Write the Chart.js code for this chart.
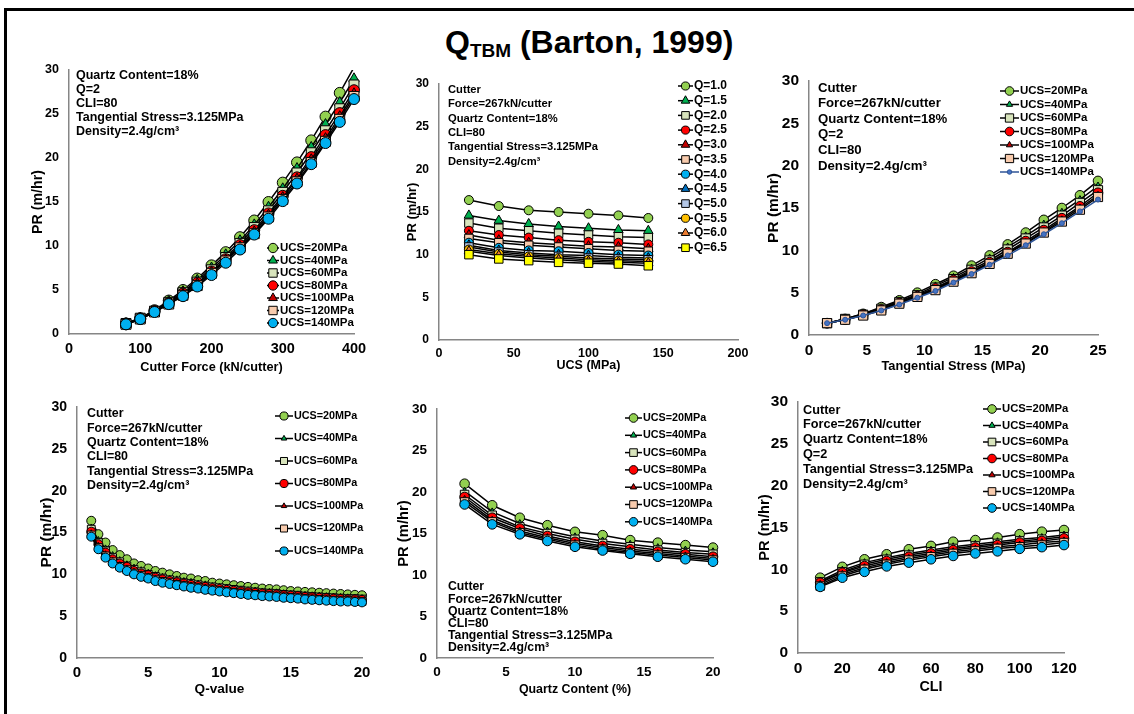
<!DOCTYPE html>
<html>
<head>
<meta charset="utf-8">
<script src="https://cdn.jsdelivr.net/npm/chart.js@4.4.1/dist/chart.umd.min.js"></script>
<style>
  body { margin: 0; background: #fff; width: 1134px; height: 714px; overflow: hidden; position: relative;
         font-family: "Liberation Sans", Arial, sans-serif; }
  canvas { position: absolute; left: 0; top: 0; }
  #frame { position: absolute; left: 4px; top: 8px; width: 1140px; height: 720px;
           border-top: 3px solid #000; border-left: 3px solid #000; }
  #title { position: absolute; left: 445px; top: 26px; font-weight: bold; font-size: 32px;
           line-height: 32px; white-space: nowrap; color: #000; }
  #title sub { font-size: 19px; vertical-align: -4px; line-height: 0; }
</style>
</head>
<body>
<div id="frame"></div>
<div id="title">Q<sub>TBM</sub> (Barton, 1999)</div>
<script>
const FONT = '"Liberation Sans", Arial, sans-serif';

// ---- series names ----
const ucsNames = ['UCS=20MPa', 'UCS=40MPa', 'UCS=60MPa', 'UCS=80MPa', 'UCS=100MPa', 'UCS=120MPa', 'UCS=140MPa'];
const qNames = ['Q=1.0', 'Q=1.5', 'Q=2.0', 'Q=2.5', 'Q=3.0', 'Q=3.5', 'Q=4.0', 'Q=4.5', 'Q=5.0', 'Q=5.5', 'Q=6.0', 'Q=6.5'];

// ---- PR vs cutter force ----
const forceX = [80, 100, 120, 140, 160, 180, 200, 220, 240, 260, 280, 300, 320, 340, 360, 380, 400];
const forcePR = [
  [1.2, 1.8, 2.7, 3.8, 5.0, 6.3, 7.8, 9.3, 11.0, 12.9, 15.0, 17.2, 19.5, 22.0, 24.7, 27.4, 30.3],
  [1.2, 1.8, 2.6, 3.7, 4.8, 6.1, 7.5, 9.0, 10.6, 12.4, 14.4, 16.5, 18.8, 21.2, 23.8, 26.3, 29.0],
  [1.2, 1.8, 2.6, 3.6, 4.7, 5.9, 7.3, 8.7, 10.3, 12.1, 14.0, 16.1, 18.3, 20.6, 23.1, 25.6, 28.3],
  [1.1, 1.7, 2.6, 3.5, 4.6, 5.8, 7.1, 8.5, 10.1, 11.8, 13.7, 15.7, 17.8, 20.1, 22.6, 25.1, 27.7],
  [1.1, 1.7, 2.5, 3.5, 4.5, 5.7, 7.0, 8.4, 9.9, 11.6, 13.5, 15.5, 17.6, 19.8, 22.2, 24.7, 27.3],
  [1.1, 1.7, 2.5, 3.4, 4.4, 5.5, 6.9, 8.3, 9.8, 11.4, 13.3, 15.3, 17.3, 19.5, 21.9, 24.4, 27.0],
  [1.1, 1.7, 2.5, 3.4, 4.3, 5.4, 6.7, 8.1, 9.6, 11.3, 13.1, 15.1, 17.1, 19.3, 21.7, 24.1, 26.7]
];

// ---- PR vs UCS (one line per Q) ----
const ucsX = [20, 40, 60, 80, 100, 120, 140];
const ucsPR = [
  [16.4, 15.7, 15.2, 15.0, 14.8, 14.6, 14.3],
  [14.6, 14.0, 13.6, 13.3, 13.1, 12.9, 12.8],
  [13.7, 13.1, 12.8, 12.5, 12.3, 12.1, 12.0],
  [12.8, 12.3, 12.0, 11.7, 11.5, 11.4, 11.2],
  [12.3, 11.7, 11.4, 11.2, 11.0, 10.9, 10.7],
  [11.9, 11.4, 11.1, 10.9, 10.7, 10.5, 10.4],
  [11.4, 10.8, 10.5, 10.4, 10.2, 10.0, 9.9],
  [11.1, 10.5, 10.2, 10.0, 9.9, 9.7, 9.6],
  [10.9, 10.3, 10.0, 9.8, 9.6, 9.5, 9.4],
  [10.6, 10.1, 9.8, 9.6, 9.4, 9.3, 9.2],
  [10.4, 9.9, 9.6, 9.4, 9.2, 9.1, 9.0],
  [10.0, 9.5, 9.3, 9.1, 9.0, 8.9, 8.7]
];

// ---- PR vs tangential stress ----
const stressX = [1.5625, 3.125, 4.6875, 6.25, 7.8125, 9.375, 10.9375, 12.5, 14.0625, 15.625, 17.1875, 18.75, 20.3125, 21.875, 23.4375, 25];
const stressPR = [
  [1.4, 1.9, 2.5, 3.3, 4.1, 5.0, 6.0, 7.0, 8.2, 9.4, 10.7, 12.1, 13.6, 15.0, 16.5, 18.2],
  [1.4, 1.9, 2.5, 3.2, 4.0, 4.8, 5.8, 6.8, 7.9, 9.1, 10.4, 11.7, 13.1, 14.5, 16.0, 17.6],
  [1.4, 1.9, 2.4, 3.1, 3.9, 4.7, 5.6, 6.6, 7.7, 8.8, 10.1, 11.4, 12.7, 14.1, 15.6, 17.1],
  [1.4, 1.8, 2.4, 3.0, 3.8, 4.6, 5.5, 6.5, 7.5, 8.6, 9.8, 11.1, 12.4, 13.8, 15.2, 16.8],
  [1.4, 1.8, 2.4, 3.0, 3.7, 4.5, 5.4, 6.4, 7.4, 8.5, 9.7, 10.9, 12.2, 13.6, 15.0, 16.5],
  [1.4, 1.8, 2.3, 2.9, 3.7, 4.5, 5.3, 6.3, 7.3, 8.4, 9.6, 10.8, 12.1, 13.4, 14.8, 16.3],
  [1.4, 1.8, 2.3, 2.9, 3.6, 4.4, 5.2, 6.2, 7.2, 8.3, 9.4, 10.6, 11.9, 13.2, 14.6, 16.0]
];

// ---- PR vs Q-value ----
const qX = [1, 1.5, 2, 2.5, 3, 3.5, 4, 4.5, 5, 5.5, 6, 6.5, 7, 7.5, 8, 8.5, 9, 9.5, 10, 10.5,
            11, 11.5, 12, 12.5, 13, 13.5, 14, 14.5, 15, 15.5, 16, 16.5, 17, 17.5, 18, 18.5, 19, 19.5, 20];
const qPR = [
  [16.4, 14.8, 13.8, 12.9, 12.3, 11.8, 11.3, 11.0, 10.7, 10.4, 10.2, 10.0, 9.8, 9.6, 9.5, 9.3, 9.2, 9.0, 8.9, 8.8,
   8.7, 8.6, 8.5, 8.4, 8.3, 8.25, 8.2, 8.1, 8.0, 7.95, 7.9, 7.85, 7.8, 7.75, 7.7, 7.65, 7.6, 7.55, 7.5],
  [15.6, 14.1, 13.1, 12.3, 11.7, 11.2, 10.8, 10.5, 10.2, 9.9, 9.7, 9.5, 9.4, 9.2, 9.1, 8.9, 8.8, 8.6, 8.5, 8.4,
   8.3, 8.2, 8.1, 8.05, 7.95, 7.9, 7.85, 7.75, 7.65, 7.6, 7.55, 7.5, 7.45, 7.4, 7.35, 7.3, 7.25, 7.2, 7.15],
  [15.4, 13.8, 12.8, 12.0, 11.5, 11.0, 10.6, 10.3, 10.0, 9.75, 9.55, 9.35, 9.2, 9.0, 8.9, 8.75, 8.6, 8.5, 8.4, 8.3,
   8.2, 8.1, 8.0, 7.9, 7.8, 7.75, 7.7, 7.6, 7.55, 7.5, 7.4, 7.35, 7.3, 7.25, 7.2, 7.15, 7.1, 7.1, 7.05],
  [15.1, 13.6, 12.6, 11.8, 11.3, 10.9, 10.4, 10.1, 9.9, 9.6, 9.4, 9.2, 9.05, 8.9, 8.75, 8.6, 8.5, 8.35, 8.25, 8.15,
   8.05, 7.95, 7.85, 7.8, 7.7, 7.65, 7.6, 7.5, 7.45, 7.4, 7.3, 7.25, 7.2, 7.15, 7.1, 7.05, 7.0, 7.0, 6.95],
  [14.9, 13.4, 12.4, 11.65, 11.1, 10.7, 10.3, 10.0, 9.75, 9.45, 9.25, 9.1, 8.95, 8.8, 8.65, 8.5, 8.4, 8.25, 8.15, 8.05,
   7.95, 7.85, 7.75, 7.7, 7.6, 7.55, 7.5, 7.4, 7.35, 7.3, 7.2, 7.15, 7.1, 7.05, 7.0, 6.95, 6.95, 6.9, 6.85],
  [14.7, 13.2, 12.2, 11.5, 10.95, 10.55, 10.15, 9.85, 9.6, 9.35, 9.15, 9.0, 8.8, 8.65, 8.5, 8.4, 8.25, 8.15, 8.05, 7.95,
   7.85, 7.75, 7.65, 7.6, 7.5, 7.45, 7.4, 7.3, 7.25, 7.2, 7.1, 7.05, 7.0, 6.95, 6.9, 6.85, 6.85, 6.8, 6.75],
  [14.5, 13.0, 12.0, 11.3, 10.8, 10.4, 10.0, 9.7, 9.5, 9.2, 9.0, 8.85, 8.7, 8.55, 8.4, 8.3, 8.15, 8.05, 7.95, 7.85,
   7.75, 7.65, 7.55, 7.5, 7.4, 7.35, 7.3, 7.2, 7.15, 7.1, 7.0, 6.95, 6.9, 6.85, 6.8, 6.75, 6.75, 6.7, 6.65]
];

// ---- PR vs quartz content ----
const quartzX = [2, 4, 6, 8, 10, 12, 14, 16, 18, 20];
const quartzPR = [
  [21.0, 18.4, 16.9, 16.0, 15.2, 14.8, 14.2, 13.9, 13.6, 13.3],
  [20.1, 17.6, 16.2, 15.3, 14.6, 14.1, 13.7, 13.3, 13.0, 12.8],
  [19.7, 17.2, 15.8, 15.0, 14.3, 13.8, 13.4, 13.0, 12.7, 12.5],
  [19.4, 16.9, 15.6, 14.7, 14.0, 13.5, 13.1, 12.8, 12.5, 12.2],
  [19.1, 16.6, 15.3, 14.5, 13.8, 13.3, 12.9, 12.6, 12.3, 12.0],
  [18.8, 16.4, 15.1, 14.3, 13.6, 13.1, 12.7, 12.4, 12.1, 11.8],
  [18.5, 16.1, 14.9, 14.1, 13.4, 12.95, 12.55, 12.2, 11.9, 11.6]
];

// ---- PR vs CLI ----
const cliX = [10, 20, 30, 40, 50, 60, 70, 80, 90, 100, 110, 120];
const cliPR = [
  [9.0, 10.3, 11.2, 11.8, 12.4, 12.8, 13.3, 13.5, 13.8, 14.2, 14.5, 14.7],
  [8.6, 9.9, 10.8, 11.4, 11.9, 12.3, 12.7, 13.0, 13.3, 13.6, 13.8, 14.1],
  [8.5, 9.7, 10.6, 11.2, 11.7, 12.1, 12.5, 12.8, 13.1, 13.4, 13.6, 13.9],
  [8.4, 9.6, 10.4, 11.0, 11.5, 11.9, 12.3, 12.6, 12.9, 13.2, 13.4, 13.7],
  [8.2, 9.4, 10.2, 10.8, 11.3, 11.7, 12.1, 12.4, 12.7, 12.9, 13.2, 13.4],
  [8.0, 9.2, 10.0, 10.6, 11.1, 11.5, 11.9, 12.2, 12.5, 12.7, 12.9, 13.2],
  [7.9, 9.0, 9.7, 10.35, 10.8, 11.2, 11.6, 11.9, 12.15, 12.45, 12.65, 12.9]
];

// ---- marker styles ----
const ucsMarks = [
  { fill: '#92D050', shape: 'circle' },
  { fill: '#00B050', shape: 'triangle' },
  { fill: '#D8E4BC', shape: 'rect' },
  { fill: '#FF0000', shape: 'circle' },
  { fill: '#C00000', shape: 'triangle' },
  { fill: '#F8CBAD', shape: 'rect' },
  { fill: '#00B0F0', shape: 'circle' }
];
const qMarks = ucsMarks.concat([
  { fill: '#0070C0', shape: 'triangle' },
  { fill: '#B4C7E7', shape: 'rect' },
  { fill: '#FFC000', shape: 'circle' },
  { fill: '#ED7D31', shape: 'triangle' },
  { fill: '#FFFF00', shape: 'rect' }
]);
const stressMarks = ucsMarks.slice(0, 6).concat([
  { fill: '#4472C4', edge: '#2F5597', line: '#2F5597', shape: 'circle', r: 2.5 }
]);

const noteCutter = ['Cutter', 'Force=267kN/cutter', 'Quartz Content=18%'];
const dens = 'Density=2.4g/cm\u00B3';
const tang = 'Tangential Stress=3.125MPa';

function drawMark(ctx, shape, x, y, r, fill, edge) {
  ctx.fillStyle = fill;
  ctx.strokeStyle = edge;
  ctx.lineWidth = 1;
  ctx.beginPath();
  if (shape === 'circle') {
    ctx.arc(x, y, r, 0, Math.PI * 2);
  } else if (shape === 'triangle') {
    let a = 0;
    ctx.moveTo(x + Math.sin(a) * r, y - Math.cos(a) * r);
    a += Math.PI * 2 / 3;
    ctx.lineTo(x + Math.sin(a) * r, y - Math.cos(a) * r);
    a += Math.PI * 2 / 3;
    ctx.lineTo(x + Math.sin(a) * r, y - Math.cos(a) * r);
    ctx.closePath();
  } else {
    const s = r * Math.SQRT1_2;
    ctx.rect(x - s, y - s, 2 * s, 2 * s);
  }
  ctx.fill();
  ctx.stroke();
}

// notes and in-plot legend
const deco = {
  id: 'deco',
  afterDraw(chart, args, o) {
    const ctx = chart.ctx;
    ctx.save();
    ctx.textAlign = 'left';
    ctx.textBaseline = 'middle';
    ctx.fillStyle = '#000';
    ctx.font = 'bold ' + o.noteSize + 'px ' + FONT;
    o.notes.forEach((t, i) => ctx.fillText(t, o.noteX, o.noteY + i * o.noteDy));

    chart.data.datasets.forEach((ds, i) => {
      const y = o.legY + i * o.legDy;
      ctx.strokeStyle = ds.borderColor;
      ctx.lineWidth = 1.5;
      ctx.beginPath();
      ctx.moveTo(o.legX, y);
      ctx.lineTo(o.legX + o.legLen, y);
      ctx.stroke();
      drawMark(ctx, ds.pointStyle, o.legX + o.legLen / 2, y, ds.markR * o.legScale,
               ds.pointBackgroundColor, ds.pointBorderColor);
      ctx.fillStyle = '#000';
      ctx.font = 'bold ' + o.legSize + 'px ' + FONT;
      ctx.fillText(ds.label, o.legX + o.legLen + 1, y);
    });
    ctx.restore();
  }
};

function makePanel(p) {
  const cv = document.createElement('canvas');
  cv.width = 1134;
  cv.height = 714;
  document.body.appendChild(cv);

  const datasets = p.series.map((ys, i) => {
    const m = p.marks[i];
    const r = m.r || p.size[m.shape];
    return {
      label: p.names[i],
      data: p.x.map((x, j) => ({ x: x, y: ys[j] })),
      showLine: true,
      borderColor: m.line || '#000',
      borderWidth: 1.5,
      backgroundColor: m.fill,
      pointBackgroundColor: m.fill,
      pointBorderColor: m.edge || '#000',
      pointBorderWidth: 1,
      pointStyle: m.shape,
      markR: r,
      pointRadius: c => (c.raw && c.raw.y > 30 ? 0 : r),
      pointHoverRadius: c => (c.raw && c.raw.y > 30 ? 0 : r),
      order: -i,
      tension: 0,
      clip: { left: 12, right: 12, top: 0, bottom: 12 }
    };
  });

  const yLH = p.yTitleSize * 1.2;
  const xLH = p.xTitleSize * 1.2;
  const yAxisW = p.area[0] - (p.yTitleX - yLH / 2);
  const xAxisH = p.xTitleY + xLH / 2 - p.area[3];

  new Chart(cv, {
    type: 'scatter',
    data: { datasets: datasets },
    options: {
      responsive: false,
      animation: false,
      events: [],
      layout: {
        padding: {
          left: p.area[0] - yAxisW,
          top: p.area[1],
          right: 1134 - p.area[2],
          bottom: 714 - p.area[3] - xAxisH
        }
      },
      plugins: {
        legend: { display: false },
        tooltip: { enabled: false },
        deco: p.deco
      },
      scales: {
        x: {
          type: 'linear',
          min: p.xRange[0],
          max: p.xRange[1],
          ticks: { stepSize: p.xRange[2], color: '#000', padding: 6, maxRotation: 0, autoSkip: false,
                   font: { family: FONT, weight: 'bold', size: p.xTickSize } },
          grid: { display: false, drawTicks: false },
          border: { display: true, color: '#868686', width: 1.5 },
          title: { display: true, text: p.xTitle, color: '#000', padding: 0,
                   font: { family: FONT, weight: 'bold', size: p.xTitleSize } },
          afterFit: s => { s.height = xAxisH; }
        },
        y: {
          type: 'linear',
          min: yRange[0],
          max: yRange[1],
          ticks: { stepSize: yRange[2], color: '#000', padding: 10,
                   font: { family: FONT, weight: 'bold', size: p.yTickSize } },
          grid: { display: false, drawTicks: false },
          border: { display: true, color: '#868686', width: 1.5 },
          title: { display: true, text: 'PR (m/hr)', color: '#000', padding: 0,
                   font: { family: FONT, weight: 'bold', size: p.yTitleSize } },
          afterFit: s => { s.width = yAxisW; }
        }
      }
    },
    plugins: [deco]
  });
}

const yRange = [0, 30, 5];

makePanel({
  area: [69, 70, 354, 334], x: forceX, series: forcePR, names: ucsNames, marks: ucsMarks,
  size: { circle: 5.5, triangle: 6, rect: 7 },
  xRange: [0, 400, 100], xTitle: 'Cutter Force (kN/cutter)',
  xTickSize: 14.5, yTickSize: 12.5, xTitleSize: 12.7, yTitleSize: 14.2, yTitleX: 38, xTitleY: 367,
  deco: { notes: ['Quartz Content=18%', 'Q=2', 'CLI=80', tang, dens], noteX: 76, noteY: 76, noteDy: 14, noteSize: 12.5,
          legX: 267, legLen: 12, legY: 248, legDy: 12.5, legSize: 11.5, legScale: 0.85 }
});

makePanel({
  area: [439, 84, 738, 340], x: ucsX, series: ucsPR, names: qNames, marks: qMarks,
  size: { circle: 4.5, triangle: 5.5, rect: 6 },
  xRange: [0, 200, 50], xTitle: 'UCS (MPa)',
  xTickSize: 12.5, yTickSize: 12, xTitleSize: 12.5, yTitleSize: 13, yTitleX: 412, xTitleY: 366,
  deco: { notes: noteCutter.concat(['CLI=80', tang, dens]), noteX: 448, noteY: 90, noteDy: 14.3, noteSize: 11.2,
          legX: 678, legLen: 15, legY: 86, legDy: 14.7, legSize: 12, legScale: 0.9 }
});

makePanel({
  area: [809, 81, 1098, 335], x: stressX, series: stressPR, names: ucsNames, marks: stressMarks,
  size: { circle: 4.8, triangle: 4, rect: 6.5 },
  xRange: [0, 25, 5], xTitle: 'Tangential Stress (MPa)',
  xTickSize: 15.5, yTickSize: 15.5, xTitleSize: 12.8, yTitleSize: 15.5, yTitleX: 774, xTitleY: 366,
  deco: { notes: noteCutter.concat(['Q=2', 'CLI=80', dens]), noteX: 818, noteY: 88, noteDy: 15.6, noteSize: 13.2,
          legX: 1000, legLen: 19, legY: 91, legDy: 13.5, legSize: 11.5, legScale: 0.9 }
});

makePanel({
  area: [77, 407, 362, 658], x: qX, series: qPR, names: ucsNames, marks: ucsMarks,
  size: { circle: 4.5, triangle: 3.5, rect: 5.5 },
  xRange: [0, 20, 5], xTitle: 'Q-value',
  xTickSize: 15, yTickSize: 14, xTitleSize: 13.6, yTitleSize: 15.5, yTitleX: 47, xTitleY: 689,
  deco: { notes: noteCutter.concat(['CLI=80', tang, dens]), noteX: 87, noteY: 414, noteDy: 14.3, noteSize: 12.4,
          legX: 275, legLen: 18, legY: 416, legDy: 22.5, legSize: 10.8, legScale: 0.9 }
});

makePanel({
  area: [437, 409, 713, 658], x: quartzX, series: quartzPR, names: ucsNames, marks: ucsMarks,
  size: { circle: 4.8, triangle: 4, rect: 6 },
  xRange: [0, 20, 5], xTitle: 'Quartz Content (%)',
  xTickSize: 13.5, yTickSize: 13.5, xTitleSize: 12.4, yTitleSize: 14.8, yTitleX: 404, xTitleY: 690,
  deco: { notes: noteCutter.concat(['CLI=80', tang, dens]), noteX: 448, noteY: 587, noteDy: 12.2, noteSize: 12.25,
          legX: 625, legLen: 17, legY: 418, legDy: 17.3, legSize: 10.8, legScale: 0.9 }
});

makePanel({
  area: [798, 402, 1064, 653], x: cliX, series: cliPR, names: ucsNames, marks: ucsMarks,
  size: { circle: 4.8, triangle: 4, rect: 6 },
  xRange: [0, 120, 20], xTitle: 'CLI',
  xTickSize: 15.5, yTickSize: 15.5, xTitleSize: 14.3, yTitleSize: 14.8, yTitleX: 765, xTitleY: 687,
  deco: { notes: noteCutter.concat(['Q=2', tang, dens]), noteX: 803, noteY: 410, noteDy: 14.8, noteSize: 12.7,
          legX: 983, legLen: 18, legY: 409, legDy: 16.5, legSize: 11.3, legScale: 0.9 }
});
</script>
</body>
</html>
